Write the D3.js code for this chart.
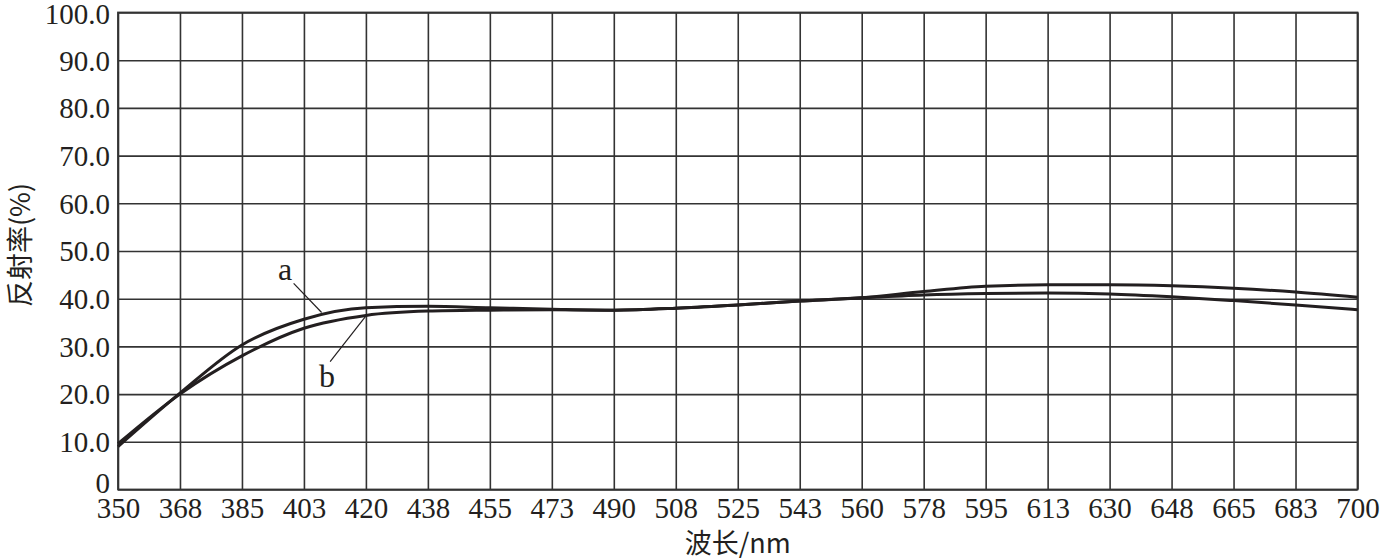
<!DOCTYPE html>
<html>
<head>
<meta charset="utf-8">
<script src="https://cdn.jsdelivr.net/npm/d3@7"></script>
<style>
  body { margin: 0; background: #fff; }
  svg { display: block; }
  .tick text { font-family: "Liberation Serif", "DejaVu Serif", serif; fill: #231f20; }
</style>
</head>
<body>
<svg id="chart" width="1381" height="560"></svg>
<script>
"use strict";

// wavelength (nm), one point per grid column
const wavelengths = [350, 367.5, 385, 402.5, 420, 437.5, 455, 472.5, 490, 507.5, 525,
  542.5, 560, 577.5, 595, 612.5, 630, 647.5, 665, 682.5, 700];
const xTickLabels = ["350", "368", "385", "403", "420", "438", "455", "473", "490", "508", "525",
  "543", "560", "578", "595", "613", "630", "648", "665", "683", "700"];
const yTicks = [0, 10, 20, 30, 40, 50, 60, 70, 80, 90, 100];

// reflectance (%)
const seriesA = [9.0, 20.2, 30.3, 35.7, 38.1, 38.4, 38.1, 37.8, 37.6, 38.0, 38.7,
  39.5, 40.2, 41.5, 42.6, 42.9, 42.9, 42.7, 42.2, 41.4, 40.3];
const seriesB = [9.6, 20.0, 28.0, 33.8, 36.5, 37.4, 37.6, 37.7, 37.6, 38.0, 38.7,
  39.5, 40.2, 40.8, 41.1, 41.2, 41.0, 40.4, 39.6, 38.7, 37.7];

// curve labels: text point, leader start and leader end on the curve
const labels = [
  { text: "a", tx: 397.2, ty: 44.0, lx: 399.6, ly: 43.2, px: 407.5, py: 37.1 },
  { text: "b", tx: 409.0, ty: 21.4, lx: 409.9, ly: 26.8, px: 419.8, py: 36.2 }
];

const ink = "#231f20";

const graph = {};
graph.svg = d3.select("#chart");
graph.margins = { top: 12.5, right: 23.5, bottom: 70.5, left: 118 };
graph.width = 1381 - graph.margins.left - graph.margins.right;
graph.height = 560 - graph.margins.top - graph.margins.bottom;

graph.g = graph.svg.append("g")
  .attr("transform", "translate(" + graph.margins.left + "," + graph.margins.top + ")");

const x = d3.scaleLinear().domain([350, 700]).range([0, graph.width]);
const y = d3.scaleLinear().domain([0, 100]).range([graph.height, 0]);

// x axis + vertical grid
const gX = graph.g.append("g")
  .attr("transform", "translate(0," + graph.height + ")")
  .call(d3.axisBottom(x)
    .tickValues(wavelengths)
    .tickFormat((d, i) => xTickLabels[i])
    .tickSize(-graph.height)
    .tickSizeOuter(0)
    .tickPadding(8));
gX.select(".domain").remove();
gX.selectAll(".tick line").attr("stroke", "#333").attr("stroke-width", 1.6);
gX.selectAll(".tick text")
  .attr("font-size", 29)
  .attr("dy", "0.72em");

// y axis + horizontal grid
const gY = graph.g.append("g")
  .call(d3.axisLeft(y)
    .tickValues(yTicks)
    .tickFormat(d => d === 0 ? "0" : d3.format(".1f")(d))
    .tickSize(-graph.width)
    .tickSizeOuter(0)
    .tickPadding(8));
gY.select(".domain").remove();
gY.selectAll(".tick line").attr("stroke", "#333").attr("stroke-width", 1.6);
gY.selectAll(".tick text")
  .attr("font-size", 29)
  .attr("dy", d => d === 0 ? "0.12em" : d === 100 ? "0.38em" : "0.34em");

// frame
graph.g.append("rect")
  .attr("width", graph.width)
  .attr("height", graph.height)
  .attr("fill", "none")
  .attr("stroke", "#333")
  .attr("stroke-width", 1.8);

// curves
const line = d3.line()
  .x((d, i) => x(wavelengths[i]))
  .y(d => y(d))
  .curve(d3.curveMonotoneX);

[seriesA, seriesB].forEach(s => {
  graph.g.append("path")
    .datum(s)
    .attr("d", line)
    .attr("fill", "none")
    .attr("stroke", ink)
    .attr("stroke-width", 3)
    .attr("stroke-linejoin", "round");
});

// labels with leader lines
labels.forEach(l => {
  graph.g.append("line")
    .attr("x1", x(l.lx)).attr("y1", y(l.ly))
    .attr("x2", x(l.px)).attr("y2", y(l.py))
    .attr("stroke", ink)
    .attr("stroke-width", 1.2);
  graph.g.append("text")
    .attr("x", x(l.tx))
    .attr("y", y(l.ty))
    .attr("text-anchor", "middle")
    .attr("font-family", "Liberation Serif, serif")
    .attr("font-size", 32)
    .attr("fill", ink)
    .text(l.text);
});

// axis titles
graph.svg.append("text")
  .attr("x", graph.margins.left + graph.width / 2)
  .attr("y", 553)
  .attr("text-anchor", "middle")
  .attr("font-family", "Noto Sans CJK SC, Liberation Serif, serif")
  .attr("font-size", 27)
  .attr("fill", ink)
  .text("波长/nm");

graph.svg.append("text")
  .attr("transform", "translate(30,245) rotate(-90)")
  .attr("text-anchor", "middle")
  .attr("font-family", "Noto Sans CJK SC, Liberation Serif, serif")
  .attr("font-size", 27)
  .attr("fill", ink)
  .text("反射率(%)");
</script>
</body>
</html>
